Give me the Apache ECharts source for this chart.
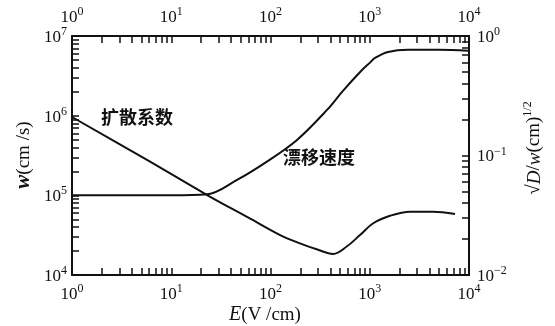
<!DOCTYPE html>
<html>
<head>
<meta charset="utf-8">
<script src="https://cdn.jsdelivr.net/npm/echarts@6/dist/echarts.min.js"></script>
<style>html,body{margin:0;padding:0;background:#fff}#c{width:555px;height:326px}</style>
</head>
<body>
<div id="c"></div>
<script>
// ---- data ----
var driftE = [1, 10, 23, 46, 92, 185, 371, 537, 836, 1000, 1130, 1530, 2430, 5000, 9750];
var driftW = [1.0e5, 1.0e5, 1.03e5, 1.56e5, 2.65e5, 4.96e5, 1.18e6, 2.05e6, 3.74e6, 4.6e6, 5.3e6, 6.3e6, 6.7e6, 6.7e6, 6.55e6];
var diffE = [1, 5.7, 23, 60, 125, 198, 292, 429, 586, 798, 1086, 1600, 2540, 4340, 7230];
var diffD = [0.21, 0.092, 0.0467, 0.0302, 0.0216, 0.0184, 0.0164, 0.0150, 0.0173, 0.0216, 0.0271, 0.0313, 0.0339, 0.0339, 0.0324];
var xMajor = [1, 10, 100, 1000, 10000];
var yLeftMajor = [1e4, 1e5, 1e6, 1e7];
var yRightMajor = [0.01, 0.1, 1];
var labelDiff = '扩散系数';
var labelDrift = '漂移速度';

function minorTicks(lo, hi) {
  var out = [];
  for (var d = lo; d < hi * 0.999; d *= 10) {
    for (var k = 1; k <= 9; k++) out.push(+(d * k).toPrecision(6));
  }
  out.push(hi);
  return out;
}

var serif = '"Liberation Serif", "DejaVu Serif", serif';
function powFmt(v) {
  var e = Math.round(Math.log(v) / Math.LN10);
  var s = e < 0 ? '\u2212' + (-e) : '' + e;
  return '{b|10}{s|' + s + '}';
}
var rich = {
  b: {fontFamily: serif, fontSize: 17, color: '#111', verticalAlign: 'bottom', lineHeight: 20},
  s: {fontFamily: serif, fontSize: 12, color: '#111', verticalAlign: 'top', lineHeight: 20}
};
var axisLine = {show: true, lineStyle: {color: '#111', width: 2}};

function xAx(pos, margin) {
  return {
    type: 'log', logBase: 10, min: 1, max: 10000, position: pos,
    axisLine: axisLine,
    axisTick: {show: true, inside: true, length: 7, customValues: minorTicks(1, 10000), lineStyle: {color: '#111', width: 1.5}},
    axisLabel: {customValues: xMajor, formatter: powFmt, rich: rich, margin: margin},
    splitLine: {show: false}, minorTick: {show: false}
  };
}

var chart = echarts.init(document.getElementById('c'), null, {renderer: 'canvas'});
chart.setOption({
  backgroundColor: '#fff',
  animation: false,
  grid: {left: 72, right: 86, top: 36, bottom: 51, containLabel: false},
  xAxis: [xAx('bottom', 8), xAx('top', 10)],
  yAxis: [
    {
      type: 'log', logBase: 10, min: 1e4, max: 1e7, position: 'left',
      axisLine: axisLine,
      axisTick: {show: true, inside: true, length: 7, customValues: minorTicks(1e4, 1e7), lineStyle: {color: '#111', width: 1.5}},
      axisLabel: {customValues: yLeftMajor, formatter: powFmt, rich: rich, margin: 5},
      splitLine: {show: false}
    },
    {
      type: 'log', logBase: 10, min: 0.01, max: 1, position: 'right',
      axisLine: axisLine,
      axisTick: {show: true, inside: true, length: 7, customValues: minorTicks(0.01, 1), lineStyle: {color: '#111', width: 1.5}},
      axisLabel: {customValues: yRightMajor, formatter: powFmt, rich: rich, margin: 8},
      splitLine: {show: false}
    }
  ],
  series: [
    {
      type: 'line', xAxisIndex: 0, yAxisIndex: 0, showSymbol: false, symbol: 'none',
      smooth: 0.35,
      lineStyle: {color: '#111', width: 2},
      data: driftE.map(function (e, i) { return [e, driftW[i]]; })
    },
    {
      type: 'line', xAxisIndex: 0, yAxisIndex: 1, showSymbol: false, symbol: 'none',
      smooth: 0.35,
      lineStyle: {color: '#111', width: 2},
      data: diffE.map(function (e, i) { return [e, diffD[i]]; })
    }
  ],
  graphic: [
    {type: 'text', left: 101, top: 108, style: {text: labelDiff, font: 'bold 18px "Noto Sans CJK SC"', fill: '#111'}},
    {type: 'text', left: 283, top: 148, style: {text: labelDrift, font: 'bold 18px "Noto Sans CJK SC"', fill: '#111'}},
    {type: 'text', x: 265, y: 315, style: {
      text: '{i|E}{n|(V /cm)}', align: 'center', verticalAlign: 'middle',
      rich: {i: {fontFamily: serif, fontStyle: 'italic', fontSize: 20, fill: '#111'}, n: {fontFamily: serif, fontSize: 19, fill: '#111'}}
    }},
    {type: 'text', x: 24, y: 155, rotation: Math.PI / 2, style: {
      text: '{i|w}{n|(cm /s)}', align: 'center', verticalAlign: 'middle',
      rich: {i: {fontFamily: serif, fontStyle: 'italic', fontWeight: 'bold', fontSize: 21, fill: '#111'}, n: {fontFamily: serif, fontSize: 19, fill: '#111'}}
    }},
    {type: 'text', x: 533, y: 148, rotation: Math.PI / 2, style: {
      text: '{n|\u221A}{i|D}{n|/}{i|w}{n|(cm)}{s|1/2}', align: 'center', verticalAlign: 'middle',
      rich: {
        i: {fontFamily: serif, fontStyle: 'italic', fontSize: 19, fill: '#111', verticalAlign: 'bottom', lineHeight: 22},
        n: {fontFamily: serif, fontSize: 19, fill: '#111', verticalAlign: 'bottom', lineHeight: 22},
        s: {fontFamily: serif, fontSize: 12, fill: '#111', verticalAlign: 'top', lineHeight: 22}
      }
    }}
  ]
});
</script>
</body>
</html>
